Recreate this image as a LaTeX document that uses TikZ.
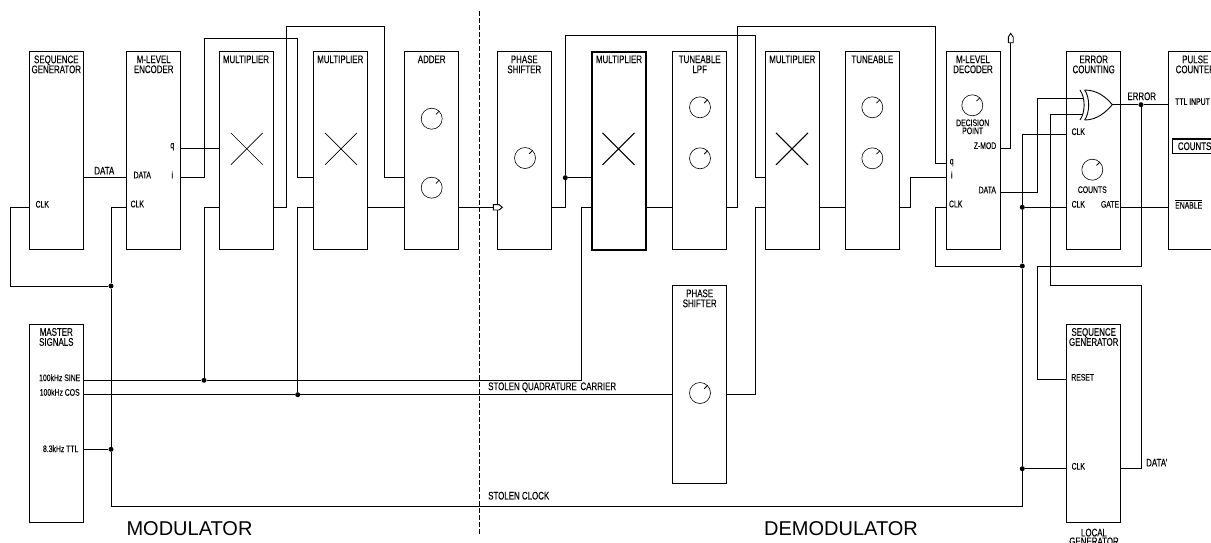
\documentclass[tikz,border=0pt]{standalone}
\usepackage{fontspec}
\setmainfont[FakeStretch=0.72,FakeBold=0.12]{Liberation Sans}
\newfontfamily\widefont{Liberation Sans}
\usetikzlibrary{shapes.misc,calc}
\begin{document}
\begin{tikzpicture}[
  x=1pt, y=-1pt,
  modbox/.style={draw, anchor=north west, minimum width=54pt, minimum height=198pt, inner sep=0pt, outer sep=0pt, line width=0.9pt},
  boxtitle/.style={anchor=north, align=center, inner sep=0pt, yshift=-3.6pt, font=\fontsize{11}{10}\selectfont},
  portlabel/.style={inner sep=0pt, font=\fontsize{9.5}{8}\selectfont},
  wirelabel/.style={inner sep=0pt, font=\fontsize{11}{8}\selectfont},
  biglabel/.style={inner sep=0pt, font=\widefont\fontsize{20}{20}\selectfont},
  wire/.style={line width=0.9pt},
  junction/.style={circle, fill=black, inner sep=0pt, minimum size=5pt},
  knob/.style={draw, circle, inner sep=0pt, minimum size=21pt, line width=0.6pt},
  mulcross/.style={draw, cross out, inner sep=0pt, minimum size=31pt, line width=0.7pt}
]
\useasboundingbox (0,0) rectangle (1211,542);
\coordinate (rowq) at (0,148);
\coordinate (rowdata) at (0,177.7);
\coordinate (rowclk) at (0,207.3);
\coordinate (rowsine) at (0,380.3);
\coordinate (rowcos) at (0,394.7);
\coordinate (rowttl) at (0,449.3);
\coordinate (rowerr) at (0,104.7);

\node[modbox, label={[boxtitle]north:SEQUENCE\\GENERATOR}] (seqgen) at (29.3,51.7) {};
\node[modbox, label={[boxtitle]north:M-LEVEL\\ENCODER}] (encoder) at (126.7,51.7) {};
\node[modbox, label={[boxtitle]north:MULTIPLIER}] (multa) at (219,51.7) {};
\node[modbox, label={[boxtitle]north:MULTIPLIER}] (multb) at (313.3,51.7) {};
\node[modbox, label={[boxtitle]north:ADDER}] (adder) at (404.7,51.7) {};
\node[modbox, label={[boxtitle]north:PHASE\\SHIFTER}] (shifta) at (497.3,51.7) {};
\node[modbox, line width=1.8pt, label={[boxtitle]north:MULTIPLIER}] (multc) at (592,51.7) {};
\node[modbox, label={[boxtitle]north:TUNEABLE\\LPF}] (lpfa) at (672.7,51.7) {};
\node[modbox, label={[boxtitle]north:MULTIPLIER}] (multd) at (765.3,51.7) {};
\node[modbox, label={[boxtitle]north:TUNEABLE}] (lpfb) at (845.3,51.7) {};
\node[modbox, label={[boxtitle]north:M-LEVEL\\DECODER}] (decoder) at (946,51.7) {};
\node[modbox, label={[boxtitle]north:ERROR\\COUNTING}] (errcount) at (1066.7,51.7) {};
\node[modbox, label={[boxtitle]north:PULSE\\COUNTER}] (pulse) at (1168.3,51.7) {};
\node[modbox, label={[boxtitle]north:MASTER\\SIGNALS}] (master) at (29.3,324.3) {};
\node[modbox, label={[boxtitle]north:PHASE\\SHIFTER}] (shiftb) at (672.7,285.7) {};
\node[modbox, label={[boxtitle]north:SEQUENCE\\GENERATOR}] (seqlocal) at (1066.7,324.3) {};

\node[mulcross] (crossa) at (246.8,148.8) {};
\node[mulcross] (crossb) at (341,148.8) {};
\node[mulcross, line width=1pt] (crossc) at (618.5,148.8) {};
\node[mulcross, line width=1pt] (crossd) at (792,148.8) {};

\foreach \kx/\ky [count=\i] in {431.7/118.7, 431.7/187.7, 525/158, 700/107.3, 700/158.3, 872.3/107.3, 872.3/158.3, 700/393, 972.3/105.3, 1092.3/169.7} {
  \node[knob] (knob\i) at (\kx,\ky) {};
  \draw[line width=0.8pt] ($(knob\i.center)!0.55!(knob\i.45)$) -- (knob\i.45);
}

\node[junction] (jseq) at (111,286) {};
\node[junction] (jttl) at (111,449.3) {};
\node[junction] (jsine) at (204,380.3) {};
\node[junction] (jcos) at (297.7,394.7) {};
\node[junction] (jshift) at (565.3,177.7) {};
\node[junction] (jdec) at (1022.3,266) {};
\node[junction] (jcnt) at (1022.3,207.3) {};
\node[junction] (jloc) at (1022.3,468.7) {};
\node[junction] (jerr) at (1141,104.7) {};

\coordinate (inmark) at (502.3,207.3);
\coordinate (zmark) at (1010.7,42.7);
\coordinate (xortip) at (1112.3,104.7);
\coordinate (xortop) at (1082.5,98.7);
\coordinate (xorbot) at (1082.5,114);
\coordinate (dashtop) at (479,11);
\coordinate (dashbot) at (479,535);

\draw[wire] (seqgen.east |- rowdata) -- (encoder.west |- rowdata);
\draw[wire] (seqgen.west |- rowclk) -- (10.3,207.3) -- (10.3,286) -- (jseq);
\draw[wire] (encoder.west |- rowclk) -- (111,207.3) -- (jseq) -- (jttl) -- (111,506) -- (1022.3,506) -- (jloc) -- (jdec) -- (jcnt) -- (1022.3,134) -- (errcount.west |- 0,134);
\draw[wire] (master.east |- rowttl) -- (jttl);
\draw[wire] (encoder.east |- rowq) -- (multa.west |- rowq);
\draw[wire] (encoder.east |- rowdata) -- (204,177.7) -- (204,38.7) -- (297.7,38.7) -- (297.7,177.7) -- (multb.west |- rowdata);
\draw[wire] (multa.west |- rowclk) -- (204,207.3) -- (jsine);
\draw[wire] (multb.west |- rowclk) -- (297.7,207.3) -- (jcos);
\draw[wire] (multa.east |- rowclk) -- (286.7,207.3) -- (286.7,26) -- (384.3,26) -- (384.3,177.7) -- (adder.west |- rowdata);
\draw[wire] (multb.east |- rowclk) -- (adder.west |- rowclk);
\draw[wire] (adder.east |- rowclk) -- (shifta.west |- rowclk);
\draw[wire] (master.east |- rowsine) -- (jsine) -- (581.3,380.3) -- (581.3,207.3) -- (multc.west |- rowclk);
\draw[wire] (master.east |- rowcos) -- (jcos) -- (shiftb.west |- rowcos);
\draw[wire] (shifta.east |- rowclk) -- (565.3,207.3) -- (jshift) -- (565.3,35.3) -- (755.7,35.3) -- (755.7,177.7) -- (multd.west |- rowdata);
\draw[wire] (jshift) -- (multc.west |- rowdata);
\draw[wire] (multc.east |- rowclk) -- (lpfa.west |- rowclk);
\draw[wire] (lpfa.east |- rowclk) -- (737.7,207.3) -- (737.7,26) -- (935,26) -- (935,163.3) -- (decoder.west |- 0,163.3);
\draw[wire] (shiftb.east |- rowcos) -- (755.7,394.7) -- (755.7,207.3) -- (multd.west |- rowclk);
\draw[wire] (multd.east |- rowclk) -- (lpfb.west |- rowclk);
\draw[wire] (lpfb.east |- rowclk) -- (910,207.3) -- (910,177.7) -- (decoder.west |- rowdata);
\draw[wire] (decoder.west |- rowclk) -- (935,207.3) -- (935,266) -- (jdec);
\draw[wire] (decoder.east |- rowq) -- (1010.7,148) -- (zmark);
\draw[wire] (decoder.east |- 0,192) -- (1037.3,192) -- (1037.3,98.7) -- (xortop);
\draw[wire] (jcnt) -- (errcount.west |- rowclk);
\draw[wire] (errcount.east |- rowclk) -- (pulse.west |- rowclk);
\draw[wire] (xortip) -- (jerr) -- (pulse.west |- rowerr);
\draw[wire] (jerr) -- (1141,266) -- (1037.3,266) -- (1037.3,379.7) -- (seqlocal.west |- 0,379.7);
\draw[wire] (xorbot) -- (1050.3,114) -- (1050.3,285.7) -- (1141,285.7) -- (1141,468.7) -- (seqlocal.east |- jloc);
\draw[wire] (jloc) -- (seqlocal.west |- jloc);
\draw[line width=0.8pt, dash pattern=on 5pt off 2pt] (dashtop) -- (dashbot);

\draw[wire, fill=white] (493.3,204.6) -- (499,204.6) -- (inmark) -- (499,210) -- (493.3,210) -- cycle;
\draw[wire, fill=white] (zmark) -- (1008.3,42.7) -- (1008.3,37) -- (1010.7,33.3) -- (1013.2,37) -- (1013.2,42.7) -- cycle;
\draw[wire] (1084.7,90) .. controls (1090,98) and (1090,112) .. (1084.7,120);
\draw[wire] (1080,90) .. controls (1085.5,98) and (1085.5,112) .. (1080,120);
\draw[wire] (1084.7,90) .. controls (1097,90) and (1106,97) .. (xortip);
\draw[wire] (1084.7,120) .. controls (1097,120) and (1106,112) .. (xortip);

\node[wirelabel] (ldata) at (104.3,170.7) {DATA};
\node[portlabel] (lseqclk) at (42.3,204.3) {CLK};
\node[portlabel] (lencdata) at (142.3,175) {DATA};
\node[portlabel] (lencclk) at (137.3,204) {CLK};
\node[portlabel] (lencq) at (172.3,146.7) {q};
\node[portlabel] (lenci) at (172.3,175) {i};
\node[portlabel] (lsine) at (59.7,377.7) {100kHz SINE};
\node[portlabel] (lcos) at (59.7,392.3) {100kHz COS};
\node[portlabel] (lttl) at (60.7,448.7) {8.3kHz TTL};
\node[wirelabel, anchor=west] (lcarrier) at (488,387.3) {STOLEN QUADRATURE\,\,CARRIER};
\node[wirelabel, anchor=west] (lclock) at (488,495.7) {STOLEN CLOCK};
\node[portlabel] (ldecq) at (951.7,162.7) {q};
\node[portlabel] (ldeci) at (951.7,175) {i};
\node[portlabel] (ldecclk) at (955.7,204) {CLK};
\node[portlabel] (ldecdata) at (987.3,190) {DATA};
\node[portlabel] (lzmod) at (985,145.7) {Z-MOD};
\node[portlabel, align=center] (lpoint) at (972.7,126.8) {DECISION\\POINT};
\node[portlabel] (lxorclk) at (1078.3,131.7) {CLK};
\node[portlabel] (lcounts) at (1092.3,189.7) {COUNTS};
\node[portlabel] (lcntclk) at (1078.3,204.3) {CLK};
\node[portlabel] (lgate) at (1110,204.3) {GATE};
\node[wirelabel] (lerror) at (1141.7,96.3) {ERROR};
\node[portlabel, anchor=west] (lttlin) at (1175,101.7) {TTL INPUT};
\node[portlabel, anchor=west] (lenable) at (1175,204.3) {$\overline{\mbox{ENABLE}}$};
\node[draw, anchor=north west, line width=1.2pt, minimum width=50pt, minimum height=14.3pt, inner sep=0pt, outer sep=0pt] (countsbox) at (1172.3,139) {};
\node[wirelabel, anchor=west] (lcountsbox) at (1177.7,146.2) {COUNTS};
\node[portlabel] (lreset) at (1082.7,377.3) {RESET};
\node[portlabel] (lsloc) at (1078.3,466.3) {CLK};
\node[wirelabel] (ldataprime) at (1156.7,462.7) {DATA'};
\node[wirelabel, align=center, anchor=north, font=\fontsize{11}{7}\selectfont] (llocal) at (1094,528.5) {LOCAL\\GENERATOR};
\node[biglabel] (lmod) at (189.5,528.3) {MODULATOR};
\node[biglabel] (ldemod) at (841,528.3) {DEMODULATOR};
\end{tikzpicture}
\end{document}
